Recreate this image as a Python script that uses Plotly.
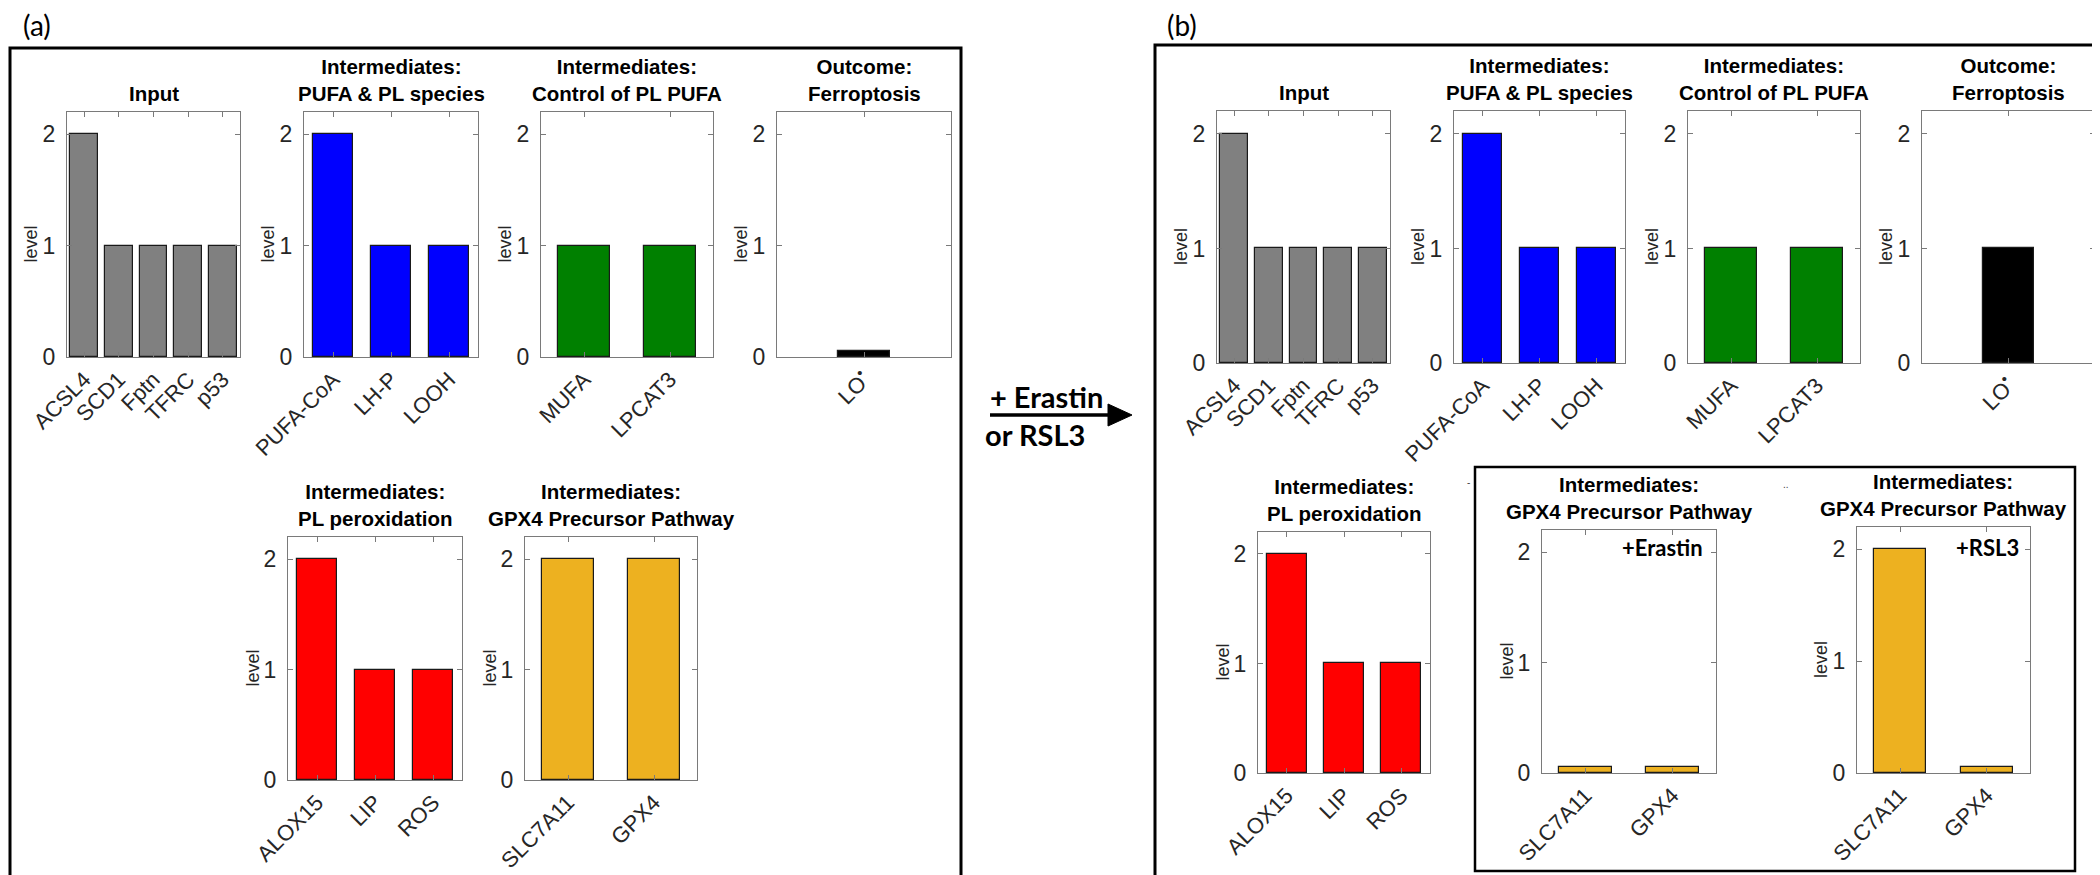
import plotly.graph_objects as go

W, H = 2100, 875

# ---- data (levels) ----
input_genes = ['ACSL4', 'SCD1', 'Fptn', 'TFRC', 'p53']
input_a = [2, 1, 1, 1, 1]
input_b = [2, 1, 1, 1, 1]

pufa_species = ['PUFA-CoA', 'LH-P', 'LOOH']
pufa_a = [2, 1, 1]
pufa_b = [2, 1, 1]

control_nodes = ['MUFA', 'LPCAT3']
control_a = [1, 1]
control_b = [1, 1]

outcome_nodes = ['LO<sup>•</sup>']
outcome_a = [0.05]
outcome_b = [1]

perox_nodes = ['ALOX15', 'LIP', 'ROS']
perox_a = [2, 1, 1]
perox_b = [2, 1, 1]

gpx4_nodes = ['SLC7A11', 'GPX4']
gpx4_a = [2, 2]
gpx4_erastin = [0.05, 0.05]
gpx4_rsl3 = [2, 0.05]

GRAY = '#808080'
BLUE = '#0000FF'
GREEN = '#008000'
BLACK = '#000000'
RED = '#FF0000'
GOLD = '#EDB120'

T_INPUT = 'Input'
T_PUFA = 'Intermediates:<br>PUFA & PL species'
T_CTRL = 'Intermediates:<br>Control of PL PUFA'
T_OUT = 'Outcome:<br>Ferroptosis'
T_PEROX = 'Intermediates:<br>PL peroxidation'
T_GPX4 = 'Intermediates:<br>GPX4 Precursor Pathway'

# (title, categories, values, colour, bar width, x-left, x-right, y-top, y-zero) in pixels
panels = [
    (T_INPUT, input_genes, input_a, GRAY, 0.8, 59, 232, 104, 349),
    (T_PUFA, pufa_species, pufa_a, BLUE, 0.7, 296, 470, 104, 349),
    (T_CTRL, control_nodes, control_a, GREEN, 0.6, 533, 705, 104, 349),
    (T_OUT, outcome_nodes, outcome_a, BLACK, 0.3, 769, 943, 104, 349),
    (T_PEROX, perox_nodes, perox_a, RED, 0.7, 280, 454, 529, 772),
    (T_GPX4, gpx4_nodes, gpx4_a, GOLD, 0.6, 517, 689, 529, 772),
    (T_INPUT, input_genes, input_b, GRAY, 0.8, 1209, 1382, 103, 355),
    (T_PUFA, pufa_species, pufa_b, BLUE, 0.7, 1446, 1617, 103, 355),
    (T_CTRL, control_nodes, control_b, GREEN, 0.6, 1680, 1852, 103, 355),
    (T_OUT, outcome_nodes, outcome_b, BLACK, 0.3, 1914, 2087, 103, 355),
    (T_PEROX, perox_nodes, perox_b, RED, 0.7, 1250, 1422, 524, 765),
    (T_GPX4, gpx4_nodes, gpx4_erastin, GOLD, 0.6, 1534, 1708, 522, 765),
    (T_GPX4, gpx4_nodes, gpx4_rsl3, GOLD, 0.6, 1849, 2022, 519, 765),
]

FONT = 'Liberation Sans'
AXCOL = '#7a7a7a'
TXT = '#262626'


def px(x):
    return x / W


def py(y):
    return 1 - y / H


fig = go.Figure()
layout = {}
annotations = []

for i, (title, cats, vals, color, bw, x0, x1, ytop, yzero) in enumerate(panels, start=1):
    sfx = '' if i == 1 else str(i)
    n = len(cats)
    fig.add_trace(go.Bar(
        x=list(range(1, n + 1)), y=vals, width=bw,
        marker=dict(color=color, line=dict(color='#1a1a1a', width=1.2)),
        xaxis='x' + sfx, yaxis='y' + sfx, showlegend=False,
    ))
    layout['xaxis' + sfx] = dict(
        domain=[px(x0), px(x1)], anchor='y' + sfx, automargin=False,
        range=[0.5, n + 0.5], tickvals=list(range(1, n + 1)), ticktext=cats,
        tickangle=-45, ticks='inside', ticklen=5, tickcolor=AXCOL,
        showline=True, linecolor=AXCOL, linewidth=1, mirror='ticks',
        showgrid=False, zeroline=False, fixedrange=True,
        tickfont=dict(family=FONT, size=22, color=TXT),
    )
    layout['yaxis' + sfx] = dict(
        domain=[py(yzero), py(ytop)], anchor='x' + sfx, automargin=False,
        range=[0, 2.2], tickvals=[0, 1, 2], ticks='inside', ticklen=5,
        tickcolor=AXCOL, showline=True, linecolor=AXCOL, linewidth=1,
        mirror='ticks', showgrid=False, zeroline=False, fixedrange=True,
        ticklabelstandoff=6,
        tickfont=dict(family=FONT, size=23, color=TXT),
    )
    # panel title
    annotations.append(dict(
        x=px((x0 + x1) / 2), y=py(ytop - 5), xanchor='center', yanchor='bottom',
        text='<b>' + title + '</b>',
        font=dict(family=FONT, size=20.5, color='black'),
    ))
    # y label
    annotations.append(dict(
        x=px(x0 - 36), y=py((ytop + yzero) / 2 + 10), xanchor='center', yanchor='middle',
        text='level', textangle=-90,
        font=dict(family=FONT, size=18, color=TXT),
    ))

# panel letters and treatment labels
CAL = 'Lato'
annotations += [
    dict(x=px(13), y=py(17), xanchor='left', yanchor='middle', text='(a)',
         font=dict(family=CAL, size=28, color='black')),
    dict(x=px(1157), y=py(17), xanchor='left', yanchor='middle', text='(b)',
         font=dict(family=CAL, size=28, color='black')),
    dict(x=px(1038), y=py(388), xanchor='center', yanchor='middle', text='<b>+ Erastin</b>',
         font=dict(family=CAL, size=29, color='black')),
    dict(x=px(1027), y=py(426), xanchor='center', yanchor='middle', text='<b>or RSL3</b>',
         font=dict(family=CAL, size=29, color='black')),
    dict(x=px(1697), y=py(539), xanchor='right', yanchor='middle', text='<b>+Erastin</b>',
         font=dict(family=CAL, size=22, color='black')),
    dict(x=px(2013), y=py(539), xanchor='right', yanchor='middle', text='<b>+RSL3</b>',
         font=dict(family=CAL, size=22, color='black')),
    # small leftover marks seen in the original inset
    dict(x=px(1460), y=py(474), xanchor='center', yanchor='middle', text='-',
         font=dict(family=FONT, size=10, color='#444')),
    dict(x=px(1778), y=py(476), xanchor='center', yanchor='middle', text='..',
         font=dict(family=FONT, size=10, color='#444')),
]
for a in annotations:
    a['xref'] = 'paper'
    a['yref'] = 'paper'
    a['showarrow'] = False

shapes = [
    # panel frames
    dict(type='rect', x0=px(2), x1=px(953), y0=py(872), y1=py(40),
         line=dict(color='black', width=3)),
    dict(type='rect', x0=px(1147), x1=px(2098), y0=py(869), y1=py(37),
         line=dict(color='black', width=3)),
    dict(type='rect', x0=px(1467), x1=px(2067), y0=py(863), y1=py(459),
         line=dict(color='black', width=2.5)),
    # arrow
    dict(type='line', x0=px(982), x1=px(1104), y0=py(407), y1=py(407),
         line=dict(color='black', width=3.5)),
    dict(type='path',
         path=f'M {px(1100)},{py(396)} L {px(1124)},{py(407)} L {px(1100)},{py(418)} Z',
         fillcolor='black', line=dict(color='black', width=1)),
]
for s in shapes:
    s['xref'] = 'paper'
    s['yref'] = 'paper'

fig.update_layout(
    **layout,
    annotations=annotations,
    shapes=shapes,
    width=W, height=H,
    margin=dict(l=0, r=0, t=0, b=0, autoexpand=False),
    plot_bgcolor='white', paper_bgcolor='white',
    bargap=0,
)

fig.write_html('out.html')
